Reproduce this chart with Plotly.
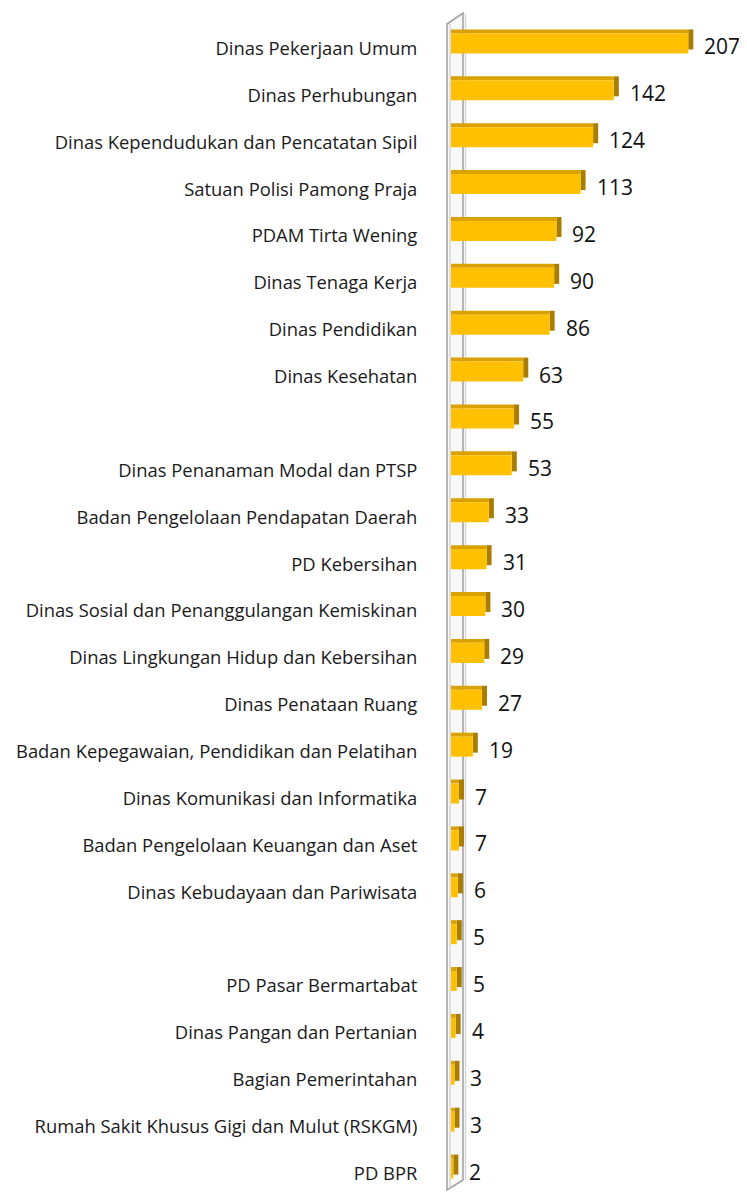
import plotly.graph_objects as go

categories = [
    "Dinas Pekerjaan Umum",
    "Dinas Perhubungan",
    "Dinas Kependudukan dan Pencatatan Sipil",
    "Satuan Polisi Pamong Praja",
    "PDAM Tirta Wening",
    "Dinas Tenaga Kerja",
    "Dinas Pendidikan",
    "Dinas Kesehatan",
    "",
    "Dinas Penanaman Modal dan PTSP",
    "Badan Pengelolaan Pendapatan Daerah",
    "PD Kebersihan",
    "Dinas Sosial dan Penanggulangan Kemiskinan",
    "Dinas Lingkungan Hidup dan Kebersihan",
    "Dinas Penataan Ruang",
    "Badan Kepegawaian, Pendidikan dan Pelatihan",
    "Dinas Komunikasi dan Informatika",
    "Badan Pengelolaan Keuangan dan Aset",
    "Dinas Kebudayaan dan Pariwisata",
    "",
    "PD Pasar Bermartabat",
    "Dinas Pangan dan Pertanian",
    "Bagian Pemerintahan",
    "Rumah Sakit Khusus Gigi dan Mulut (RSKGM)",
    "PD BPR",
]
values = [207, 142, 124, 113, 92, 90, 86, 63, 55, 53, 33, 31, 30, 29, 27,
          19, 7, 7, 6, 5, 5, 4, 3, 3, 2]

positions = list(range(len(values)))

OFF = 8  # page body margin
W, H = 747 - OFF, 1192 - OFF
ML, MR, MT, MB = 451 - OFF, 6, 20 - OFF, 0
PW, PH = W - ML - MR, H - MT - MB
XMAX = 253

FRONT = "#FFC000"
TOP = "#D9A200"
SIDE = "#A87D00"

FW = 0.427   # front face thickness (category units)
DY = 0.085   # depth upward (category units)
DX = 4.4     # depth to the right (value units)

fig = go.Figure()

# right side face
fig.add_trace(go.Bar(
    y=positions, x=[DX] * len(values), base=values, orientation="h",
    width=FW, offset=-FW / 2 - DY, marker=dict(color=SIDE, line=dict(width=0)),
    hoverinfo="skip", showlegend=False))
# top face
fig.add_trace(go.Bar(
    y=positions, x=values, base=0, orientation="h",
    width=DY, offset=-FW / 2 - DY, marker=dict(color=TOP, line=dict(width=0)),
    hoverinfo="skip", showlegend=False))
# front face
fig.add_trace(go.Bar(
    y=positions, x=values, orientation="h",
    width=FW, offset=-FW / 2, marker=dict(color=FRONT, line=dict(width=0)),
    showlegend=False))

annotations = []
for p, v in zip(positions, values):
    annotations.append(dict(
        x=v, y=p, xref="x", yref="y", text=str(v), showarrow=False,
        xanchor="left", yanchor="middle", xshift=14, yshift=-3,
        font=dict(family="Open Sans", size=21, color="#111111")))


def px(xp, yp):
    return (xp - OFF - ML) / PW, 1 - (yp - OFF - MT) / PH


def path(points, close=False):
    s = ""
    for i, (a, b) in enumerate(points):
        xx, yy = px(a, b)
        s += ("M" if i == 0 else " L") + f" {xx:.5f},{yy:.5f}"
    if close:
        s += " Z"
    return s


shapes = [
    dict(type="path", xref="paper", yref="paper", layer="below",
         path=path([(447, 24), (463, 13), (463, 1180), (447, 1190)], close=True),
         fillcolor="rgba(248,248,248,1)", line=dict(color="#A3A3A3", width=1.6)),
    dict(type="path", xref="paper", yref="paper", layer="below",
         path=path([(450, 24), (450, 1188)]),
         line=dict(color="#D6D6D6", width=1.5)),
    dict(type="path", xref="paper", yref="paper", layer="below",
         path=path([(465.5, 14), (465.5, 1180)]),
         line=dict(color="#D6D6D6", width=1.5)),
]

fig.update_layout(
    width=W, height=H,
    margin=dict(l=ML, r=MR, t=MT, b=MB, pad=0),
    paper_bgcolor="white", plot_bgcolor="rgba(0,0,0,0)",
    barmode="overlay",
    showlegend=False,
    xaxis=dict(range=[0, XMAX], visible=False, fixedrange=True),
    yaxis=dict(
        range=[len(values) - 0.5, -0.5],
        tickmode="array", tickvals=positions, ticktext=categories,
        ticks="outside", ticklen=29, tickcolor="rgba(0,0,0,0)",
        ticklabelshift=-5,
        showgrid=False, zeroline=False, showline=False,
        tickfont=dict(family="Open Sans", size=18.4, color="#1a1a1a"),
        fixedrange=True),
    annotations=annotations,
    shapes=shapes,
)

fig.write_html("out.html")
